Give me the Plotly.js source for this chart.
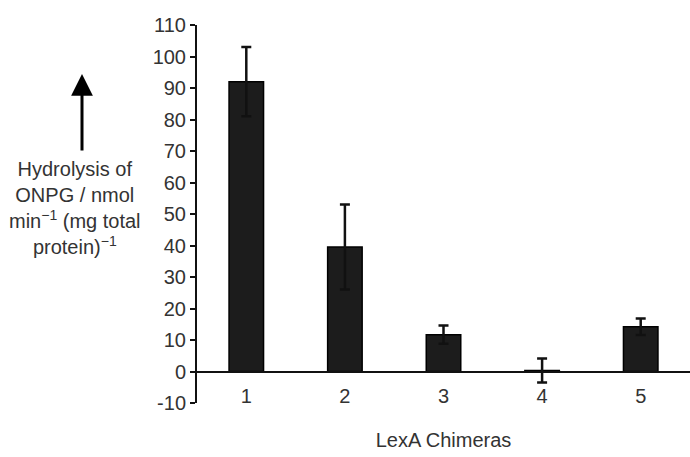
<!DOCTYPE html>
<html>
<head>
<meta charset="utf-8">
<script src="https://cdn.plot.ly/plotly-3.0.1.min.js"></script>
<style>html,body{margin:0;padding:0;background:#fff;}#chart{width:690px;height:457px;}</style>
</head>
<body>
<div id="chart"></div>
<script>
// Data
const categories = ['1', '2', '3', '4', '5'];
const values = [92, 39.5, 11.7, 0.3, 14.2];
const errors = [11, 13.5, 2.9, 3.8, 2.6];
const yTickVals = [-10, 0, 10, 20, 30, 40, 50, 60, 70, 80, 90, 100, 110];
const xTitle = 'LexA Chimeras';
const yLabel = 'Hydrolysis of<br>ONPG / nmol<br>min<sup>−1</sup> (mg total<br>protein)<sup>−1</sup>';

const W = 690, H = 457;
const M = {l: 197, r: 0, t: 25, b: 54};
const pw = W - M.l - M.r, ph = H - M.t - M.b;
const px2x = p => (p - M.l) / pw;
const py2y = p => (H - M.b - p) / ph;

const fontFam = '"Liberation Sans", Arial, Helvetica, sans-serif';
const txtCol = '#333';
const fs = 20;

const trace = {
  type: 'bar',
  x: categories,
  y: values,
  width: 0.35,
  marker: {color: '#1c1c1c', line: {color: '#000', width: 1.5}},
  error_y: {type: 'data', array: errors, visible: true, color: '#111', thickness: 2.5, width: 5},
  hoverinfo: 'skip'
};

const layout = {
  width: W, height: H,
  margin: M,
  paper_bgcolor: '#fff', plot_bgcolor: '#fff',
  showlegend: false,
  font: {family: fontFam, size: fs, color: txtCol},
  xaxis: {
    type: 'category',
    range: [-0.5, 4.5],
    anchor: 'free',
    position: (0 - yTickVals[0]) / (yTickVals[yTickVals.length - 1] - yTickVals[0]),
    showline: true, linecolor: '#111', linewidth: 2,
    showgrid: false, zeroline: false,
    ticks: 'outside', ticklen: 6, tickcolor: 'rgba(0,0,0,0)',
    tickfont: {family: fontFam, size: fs, color: txtCol},
    title: {text: xTitle, font: {family: fontFam, size: fs, color: txtCol}, standoff: 26}
  },
  yaxis: {
    range: [yTickVals[0], yTickVals[yTickVals.length - 1]],
    tickvals: yTickVals,
    ticktext: yTickVals.map(String),
    showline: true, linecolor: '#111', linewidth: 2,
    showgrid: false, zeroline: false,
    ticks: 'outside', ticklen: 5, tickwidth: 2, tickcolor: '#111',
    tickfont: {family: fontFam, size: fs, color: txtCol}
  },
  annotations: [
    {
      xref: 'paper', yref: 'paper',
      x: px2x(75), y: py2y(208),
      xanchor: 'center', yanchor: 'middle',
      text: yLabel, showarrow: false, align: 'center',
      font: {family: fontFam, size: fs, color: txtCol}
    },
    {
      xref: 'paper', yref: 'paper',
      x: px2x(82), y: py2y(74),
      text: '', showarrow: true,
      axref: 'pixel', ayref: 'pixel', ax: 0, ay: 78,
      arrowhead: 2, arrowsize: 1.45, arrowwidth: 3, arrowcolor: '#000',
      standoff: 0, startstandoff: 0
    }
  ]
};

Plotly.newPlot('chart', [trace], layout, {staticPlot: true, displayModeBar: false});
</script>
</body>
</html>
